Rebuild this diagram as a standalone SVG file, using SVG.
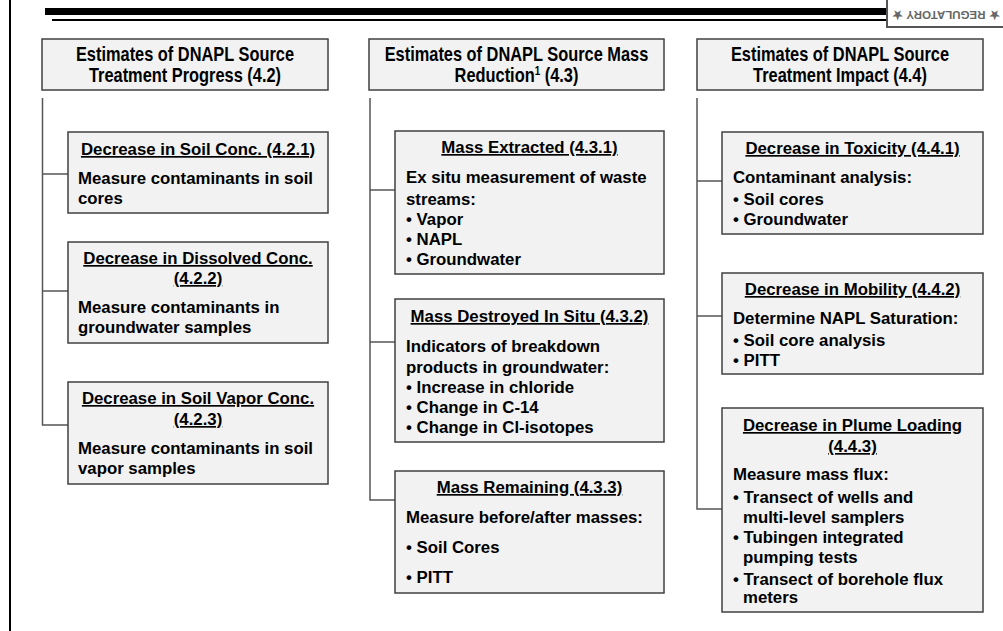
<svg xmlns="http://www.w3.org/2000/svg" width="1003" height="631" viewBox="0 0 1003 631">
<style>
.box{fill:#f2f2f2;stroke:#404040;stroke-width:1.5}
.hd{font-family:"Liberation Sans",Arial,sans-serif;font-weight:bold;font-size:20px;fill:#000;text-anchor:middle}
.t{font-family:"Liberation Sans",Arial,sans-serif;font-weight:bold;font-size:16.8px;fill:#000;text-anchor:middle;text-decoration:underline}
.b{font-family:"Liberation Sans",Arial,sans-serif;font-weight:bold;font-size:16.8px;fill:#000}
.c{fill:none;stroke:#555;stroke-width:1.5}
</style>
<rect width="1003" height="631" fill="#fff"/>
<g id="frame">
<line x1="10" y1="0" x2="10" y2="631" stroke="#000" stroke-width="2"/>
<rect x="45" y="8" width="841" height="7" fill="#000"/>
<rect x="52" y="19" width="834" height="2" fill="#000"/>
<rect x="887" y="-5" width="120" height="32" fill="#fff" stroke="#555" stroke-width="2"/>
<text transform="translate(946,14) rotate(180)" text-anchor="middle" dominant-baseline="middle" font-family="Liberation Sans,Arial,sans-serif" font-weight="bold" font-size="11.5" fill="#666">★ REGULATORY ★</text>
</g>
<g id="connectors">
<path class="c" d="M42.5 98V425H68M42.5 174H68M42.5 291H68"/>
<path class="c" d="M370 98V500H395M370 190H395M370 342H395"/>
<path class="c" d="M697 98V509H722M697 181H722M697 316H722"/>
</g>
<g id="h1"><rect class="box" x="42" y="39" width="286" height="51"/>
<g transform="translate(185,0) scale(0.82,1)">
<text class="hd" x="0" y="61">Estimates of DNAPL Source</text>
<text class="hd" x="0" y="82">Treatment Progress (4.2)</text></g></g>
<g id="h2"><rect class="box" x="369" y="39" width="295" height="51"/>
<g transform="translate(516.5,0) scale(0.82,1)">
<text class="hd" x="0" y="61">Estimates of DNAPL Source Mass</text>
<text class="hd" x="0" y="82">Reduction<tspan font-size="12" dy="-7">1</tspan><tspan dy="7"> (4.3)</tspan></text></g></g>
<g id="h3"><rect class="box" x="697" y="39" width="286" height="51"/>
<g transform="translate(840,0) scale(0.82,1)">
<text class="hd" x="0" y="61">Estimates of DNAPL Source</text>
<text class="hd" x="0" y="82">Treatment Impact (4.4)</text></g></g>

<g id="n421"><rect class="box" x="68" y="132" width="260" height="81"/>
<text class="t" x="198" y="155">Decrease in Soil Conc. (4.2.1)</text>
<text class="b" x="78" y="184">Measure contaminants in soil</text>
<text class="b" x="78" y="204">cores</text></g>
<g id="n422"><rect class="box" x="68" y="242" width="260" height="101"/>
<text class="t" x="198" y="264">Decrease in Dissolved Conc.</text>
<text class="t" x="198" y="284">(4.2.2)</text>
<text class="b" x="78" y="313">Measure contaminants in</text>
<text class="b" x="78" y="333">groundwater samples</text></g>
<g id="n423"><rect class="box" x="68" y="382" width="260" height="102"/>
<text class="t" x="198" y="404">Decrease in Soil Vapor Conc.</text>
<text class="t" x="198" y="425">(4.2.3)</text>
<text class="b" x="78" y="454">Measure contaminants in soil</text>
<text class="b" x="78" y="474">vapor samples</text></g>

<g id="n431"><rect class="box" x="395" y="131" width="269" height="143"/>
<text class="t" x="529.5" y="153">Mass Extracted (4.3.1)</text>
<text class="b" x="406" y="183">Ex situ measurement of waste</text>
<text class="b" x="406" y="205">streams:</text>
<text class="b" x="406" y="225">• Vapor</text>
<text class="b" x="406" y="245">• NAPL</text>
<text class="b" x="406" y="265">• Groundwater</text></g>
<g id="n432"><rect class="box" x="395" y="299" width="269" height="143"/>
<text class="t" x="529.5" y="322">Mass Destroyed In Situ (4.3.2)</text>
<text class="b" x="406" y="352">Indicators of breakdown</text>
<text class="b" x="406" y="373">products in groundwater:</text>
<text class="b" x="406" y="393">• Increase in chloride</text>
<text class="b" x="406" y="413">• Change in C-14</text>
<text class="b" x="406" y="433">• Change in Cl-isotopes</text></g>
<g id="n433"><rect class="box" x="395" y="471" width="269" height="122"/>
<text class="t" x="529.5" y="493">Mass Remaining (4.3.3)</text>
<text class="b" x="406" y="523">Measure before/after masses:</text>
<text class="b" x="406" y="553">• Soil Cores</text>
<text class="b" x="406" y="583">• PITT</text></g>

<g id="n441"><rect class="box" x="722" y="132" width="261" height="102"/>
<text class="t" x="852.5" y="154">Decrease in Toxicity (4.4.1)</text>
<text class="b" x="733" y="183">Contaminant analysis:</text>
<text class="b" x="733" y="205">• Soil cores</text>
<text class="b" x="733" y="225">• Groundwater</text></g>
<g id="n442"><rect class="box" x="722" y="273" width="261" height="101"/>
<text class="t" x="852.5" y="295">Decrease in Mobility (4.4.2)</text>
<text class="b" x="733" y="324">Determine NAPL Saturation:</text>
<text class="b" x="733" y="346">• Soil core analysis</text>
<text class="b" x="733" y="366">• PITT</text></g>
<g id="n443"><rect class="box" x="722" y="408" width="261" height="204"/>
<text class="t" x="852.5" y="431">Decrease in Plume Loading</text>
<text class="t" x="852.5" y="452">(4.4.3)</text>
<text class="b" x="733" y="480">Measure mass flux:</text>
<text class="b" x="733" y="503">• Transect of wells and</text>
<text class="b" x="743" y="523">multi-level samplers</text>
<text class="b" x="733" y="543">• Tubingen integrated</text>
<text class="b" x="743" y="563">pumping tests</text>
<text class="b" x="733" y="585">• Transect of borehole flux</text>
<text class="b" x="743" y="603">meters</text></g>
</svg>
